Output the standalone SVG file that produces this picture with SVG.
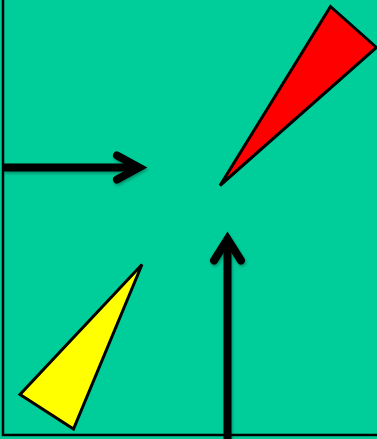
<svg xmlns="http://www.w3.org/2000/svg" width="377" height="439" viewBox="0 0 377 439">
<style>
.tri{stroke:#000;stroke-width:3;stroke-linejoin:miter}
.arr{fill:none;stroke:#000;stroke-width:8;stroke-linecap:round;stroke-linejoin:miter}
</style>
<defs>
<filter id="sh" x="-20%" y="-20%" width="140%" height="140%">
<feDropShadow dx="1" dy="2" stdDeviation="1.5" flood-color="#000" flood-opacity="0.3"/>
</filter>
</defs>
<rect x="0" y="0" width="377" height="439" fill="#00CE9A"/>
<path d="M3,0 V435 H377" fill="none" stroke="#000" stroke-width="2.5"/>
<g id="red">
<polygon class="tri" points="330.5,6.5 376.5,47.5 220,185.5" fill="#FF0000"/>
</g>
<g id="yellow">
<polygon class="tri" points="142,264.5 20,394.5 73.5,429" fill="#FFFF00"/>
</g>
<g id="connectors" filter="url(#sh)">
<path class="arr" d="M4,167.5 H139" style="stroke-linecap:butt"/>
<path class="arr" d="M117,155.5 L139,167.5 L117,179.5"/>
<path class="arr" d="M227.5,439 V240" style="stroke-linecap:butt"/>
<path class="arr" d="M214,260.5 L227.5,239 L241,260.5"/>
</g>
</svg>
